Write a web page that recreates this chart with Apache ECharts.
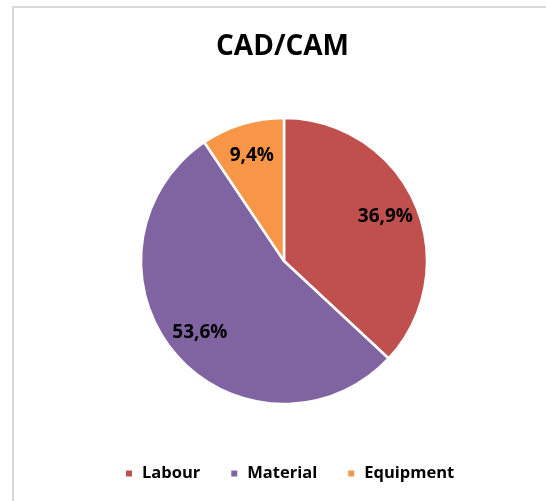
<!DOCTYPE html>
<html>
<head>
<meta charset="utf-8">
<script src="https://cdn.jsdelivr.net/npm/echarts@6/dist/echarts.min.js"></script>
<style>
  html, body { margin: 0; padding: 0; background: #fff; overflow: hidden; }
  #frame {
    position: absolute; left: 12px; top: 6px; width: 700px; height: 700px;
    border-left: 2px solid #d9d9d9; border-top: 2px solid #d9d9d9;
  }
  #main { position: absolute; left: 0; top: 0; width: 546px; height: 501px; }
</style>
</head>
<body>
<div id="frame"></div>
<div id="main"></div>
<script>
// CAD/CAM cost split
var categories = ['Labour', 'Material', 'Equipment'];
var shares = [36.9, 53.6, 9.4];
var colors = ['#C0504D', '#8064A2', '#F79646'];

var pieData = categories.map(function (name, i) {
  return { name: name, value: shares[i], itemStyle: { color: colors[i] } };
});
// same values, no fill: only carries the labels
var labelData = categories.map(function (name, i) {
  return { name: name, value: shares[i] };
});

function fmt(p) {
  return p.value.toFixed(1).replace('.', ',') + '%';
}

var font = '"Open Sans", "Noto Sans", sans-serif';
var myChart = echarts.init(document.getElementById('main'));
myChart.setOption({
  animation: false,
  title: {
    text: 'CAD/CAM',
    left: 216,
    top: 33,
    padding: 0,
    textStyle: { fontFamily: font, fontWeight: 'bold', fontSize: 28, color: '#000' }
  },
  legend: {
    data: categories,
    left: 124,
    top: 465,
    padding: 0,
    icon: 'rect',
    itemWidth: 8,
    itemHeight: 8,
    itemGap: 29,
    textStyle: { fontFamily: font, fontWeight: 'bold', fontSize: 16.5, color: '#000', padding: [0, 0, 0, 4] }
  },
  series: [
    {
      type: 'pie',
      center: [284, 261],
      radius: 143,
      startAngle: 90,
      clockwise: true,
      silent: true,
      label: { show: false },
      labelLine: { show: false },
      itemStyle: { borderColor: '#fff', borderWidth: 2.5 },
      data: pieData
    },
    {
      // invisible ring only used to place labels further out
      type: 'pie',
      center: [284, 261],
      radius: [72, 143],
      startAngle: 90,
      clockwise: true,
      silent: true,
      legendHoverLink: false,
      itemStyle: { color: 'rgba(0,0,0,0)', borderWidth: 0 },
      label: {
        show: true,
        position: 'inside',
        formatter: fmt,
        fontFamily: font,
        fontWeight: 'bold',
        fontSize: 19,
        color: '#000'
      },
      labelLine: { show: false },
      data: labelData
    }
  ]
});
</script>
</body>
</html>
